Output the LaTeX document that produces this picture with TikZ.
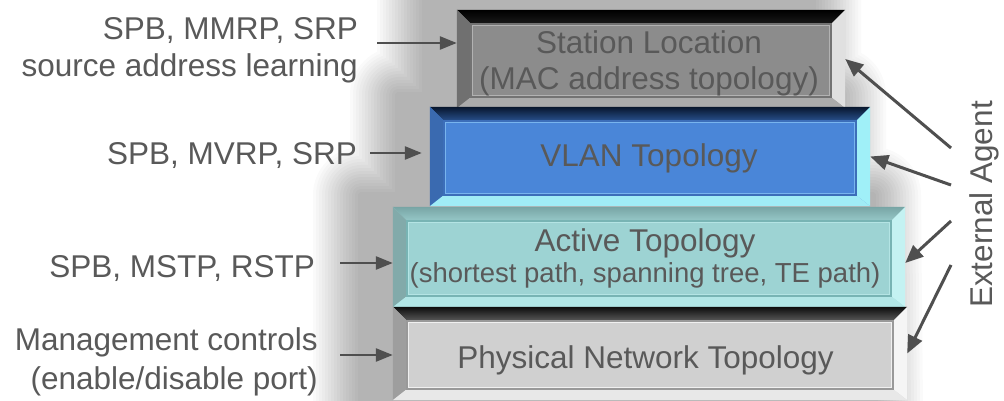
\documentclass[tikz,border=0pt]{standalone}
\usepackage{fontspec}
\setmainfont{Liberation Sans}
\usetikzlibrary{arrows.meta}
\definecolor{txt}{HTML}{595959}
\definecolor{arrc}{HTML}{4F4F4F}
\definecolor{bAfill}{RGB}{140,140,140}
\definecolor{bBfill}{RGB}{74,134,216}
\definecolor{bBtopo}{RGB}{8,22,45}
\definecolor{bBtopi}{RGB}{40,80,140}
\definecolor{bBleft}{RGB}{58,106,176}
\definecolor{bBright}{RGB}{160,240,248}
\definecolor{bBbot}{RGB}{160,236,246}
\definecolor{bBlineA}{RGB}{60,110,185}
\definecolor{bBlineB}{RGB}{120,180,238}
\definecolor{bCfill}{RGB}{157,211,211}
\definecolor{bCtopo}{RGB}{120,165,165}
\definecolor{bCtopi}{RGB}{150,200,200}
\definecolor{bCleft}{RGB}{130,170,170}
\definecolor{bCright}{RGB}{196,242,242}
\definecolor{bCbot}{RGB}{178,230,230}
\definecolor{bClineA}{RGB}{120,180,180}
\definecolor{bClineB}{RGB}{180,228,228}
\definecolor{bDfill}{RGB}{208,208,208}
\newcommand\bevelbox[8]{%
  \shade[top color=#2,bottom color=#3] (#1.north west) -- (#1.north east) -- ([shift={(-14,14)}]#1.north east) -- ([shift={(14,14)}]#1.north west) -- cycle;
  \fill[#4] (#1.north west) -- ([shift={(14,14)}]#1.north west) -- ([shift={(14,-11)}]#1.south west) -- (#1.south west) -- cycle;
  \fill[#5] (#1.north east) -- (#1.south east) -- ([shift={(-14,-11)}]#1.south east) -- ([shift={(-14,14)}]#1.north east) -- cycle;
  \fill[#6] (#1.south west) -- ([shift={(14,-11)}]#1.south west) -- ([shift={(-14,-11)}]#1.south east) -- (#1.south east) -- cycle;
  \draw[#7,line width=1.6pt] ([shift={(14,14)}]#1.north west) rectangle ([shift={(-14,-11)}]#1.south east);
  \draw[#8,line width=0.8pt] ([shift={(16,16)}]#1.north west) rectangle ([shift={(-16,-13)}]#1.south east);}
\begin{document}
\begin{tikzpicture}[x=1pt,y=-1pt,
  box/.style={rectangle,inner sep=0pt,draw=none},
  lbl/.style={inner sep=0pt,text=txt,font=\fontsize{31.5}{37}\selectfont,align=right,anchor=north east},
  btxt/.style={inner sep=0pt,text=txt,font=\fontsize{31.5}{36}\selectfont,align=center,anchor=north},
  larr/.style={draw=arrc,line width=2.6pt,-{Triangle[length=17pt,width=13pt]}},
  rarr/.style={draw=arrc,line width=3pt,-{Triangle[length=18pt,width=15pt]}}]
\useasboundingbox (0,0) rectangle (1004,401);
\fill[white] (0,0) rectangle (1004,401);
% soft shadow behind the stack
\begin{scope}[shift={(-32,-12)}]
\foreach \r in {3,6,...,48}{
  \begin{scope}[transparency group,opacity=0.021]
  \filldraw[black,line width={2*\r*1pt},line join=round]
    (457,10) -- (845,10) -- (845,107) -- (870,107) -- (870,207) -- (905,207) -- (907,420)
    -- (393,420) -- (393,207) -- (430,207) -- (430,107) -- (457,107) -- cycle;
  \end{scope}}
\end{scope}
% boxes
\node[box,fill=bAfill,minimum width=388pt,minimum height=98pt] (b1) at (651,59) {};
\bevelbox{b1}{black}{black!80!gray}{black!56}{black!12}{black!33}{black!55}{black!30}
\node[box,fill=bBfill,minimum width=440pt,minimum height=99pt] (b2) at (650,156.5) {};
\bevelbox{b2}{bBtopo}{bBtopi}{bBleft}{bBright}{bBbot}{bBlineA}{bBlineB}
\node[box,fill=bCfill,minimum width=512pt,minimum height=100pt] (b3) at (649,257) {};
\bevelbox{b3}{bCtopo}{bCtopi}{bCleft}{bCright}{bCbot}{bClineA}{bClineB}
\node[box,fill=bDfill,minimum width=514pt,minimum height=93pt] (b4) at (650,353.5) {};
\bevelbox{b4}{black!95}{black!65}{black!38}{black!4}{black!9}{black!40}{black!6}
% box texts
\node[btxt] (t1) at (649,30) {Station Location\\(MAC address topology)};
\node[btxt] (t2) at (649,143) {VLAN Topology};
\node[btxt,font=\fontsize{27.5}{31}\selectfont] (t3) at (645,228) {{\fontsize{31.5}{31}\selectfont Active Topology}\\(shortest path, spanning tree, TE path)};
\node[btxt] (t4) at (645.5,345) {Physical Network Topology};
% left labels
\node[lbl] (l1) at (358,17) {SPB, MMRP, SRP\\source address learning};
\node[lbl] (l2) at (357,142) {SPB, MVRP, SRP};
\node[lbl] (l3) at (315,255) {SPB, MSTP, RSTP};
\node[lbl,font=\fontsize{31.5}{39}\selectfont] (l4) at (318,327) {Management controls\\(enable/disable port)};
\coordinate (s1) at (377,43);
\coordinate (s2) at (370,153);
\coordinate (s3) at (340,263);
\coordinate (s4) at (340,355);
\draw[larr] (s1) -- (s1 -| b1.west);
\draw[larr,shorten >=8pt] (s2) -- (s2 -| b2.west);
\draw[larr] (s3) -- (s3 -| b3.west);
\draw[larr] (s4) -- (s4 -| b4.west);
% external agent
\node[inner sep=0pt,text=txt,font=\fontsize{31.5}{36}\selectfont,rotate=90,anchor=north] (ea) at (969,204.5) {External Agent};
\draw[rarr] ([shift={(-18pt,56.5pt)}]ea.north) -- (b1.east);
\draw[rarr] ([shift={(-18pt,19.5pt)}]ea.north) -- (b2.east);
\draw[rarr] ([shift={(-18pt,-16.5pt)}]ea.north) -- ([yshift=-6pt]b3.east);
\draw[rarr] ([shift={(-18pt,-60.5pt)}]ea.north) -- (b4.east);
\end{tikzpicture}
\end{document}
